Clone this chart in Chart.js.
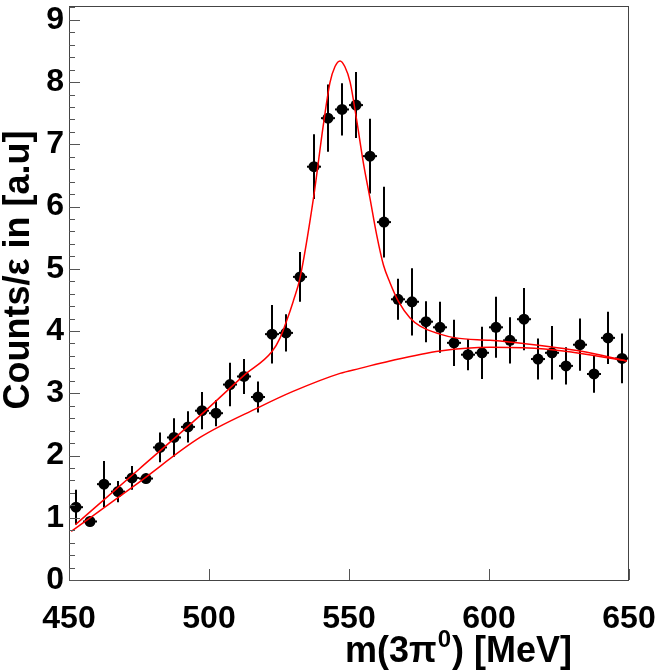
<!DOCTYPE html>
<html><head><meta charset="utf-8">
<script src="https://cdn.jsdelivr.net/npm/chart.js@4/dist/chart.umd.min.js"></script>
<style>html,body{margin:0;padding:0;background:#fff;overflow:hidden}#wrap{width:657px;height:670px;position:relative}</style>
</head><body><div id="wrap"><canvas id="c" width="657" height="670"></canvas></div>
<script>
// ---- data ----
const massBins = [452.5,457.5,462.5,467.5,472.5,477.5,482.5,487.5,492.5,497.5,
                  502.5,507.5,512.5,517.5,522.5,527.5,532.5,537.5,542.5,547.5,
                  552.5,557.5,562.5,567.5,572.5,577.5,582.5,587.5,592.5,597.5,
                  602.5,607.5,612.5,617.5,622.5,627.5,632.5,637.5,642.5,647.5];
const counts = [1.17,0.94,1.54,1.42,1.64,1.63,2.13,2.29,2.46,2.72,
                2.68,3.14,3.27,2.94,3.95,3.97,4.87,6.64,7.42,7.56,
                7.63,6.81,5.75,4.51,4.47,4.15,4.06,3.81,3.62,3.65,
                4.06,3.85,4.19,3.55,3.65,3.44,3.78,3.31,3.89,3.56];
const countErrors = [0.28,0.08,0.37,0.17,0.19,0.08,0.24,0.31,0.25,0.30,
                     0.21,0.35,0.28,0.25,0.47,0.30,0.40,0.52,0.54,0.42,
                     0.53,0.60,0.57,0.33,0.54,0.33,0.41,0.37,0.25,0.42,
                     0.49,0.37,0.50,0.33,0.43,0.30,0.42,0.30,0.42,0.40];
const binHalfWidth = 2.5;
// fit: signal + background
const fitTotalX = [452.3,475,496.8,512.3,522.5,525.4,527.7,530.1,532.5,537.3,540.8,543.2,545.0,546.8,
                   548.5,550.4,552.7,555.1,557.5,559.9,562.3,564.6,567.6,571.8,575.4,582.5,588.0,
                   600.4,612.3,632.5,649.2];
const fitTotalY = [0.89,1.78,2.64,3.28,3.67,3.89,4.16,4.48,4.85,6.13,7.30,7.99,8.25,8.34,
                   8.25,8.00,7.40,6.71,6.13,5.54,5.06,4.78,4.48,4.21,4.08,3.95,3.89,
                   3.85,3.80,3.68,3.52];
// fit: background only
const fitBgX = [450.8,475,496.8,517.6,530,546.8,553.9,564.6,582.5,600.4,612.3,626.5,649.2];
const fitBgY = [0.78,1.57,2.29,2.77,3.03,3.32,3.40,3.52,3.68,3.74,3.73,3.68,3.52];
const xTickLabels = [450,500,550,600,650];
const yTickLabels = [0,1,2,3,4,5,6,7,8,9];
const xTitleParts = ['m(3\u03c0', '0', ') [MeV]'];
const yTitle = 'Counts/\u03b5 in [a.u]';

const FONT = '"Liberation Sans", Arial, Helvetica, sans-serif';

const pointsData = massBins.map((m,i)=>({x:m, y:counts[i]}));
const totalData = fitTotalX.map((m,i)=>({x:m, y:fitTotalY[i]}));
const bgData = fitBgX.map((m,i)=>({x:m, y:fitBgY[i]}));

const decorPlugin = {
  id:'decor',
  beforeDatasetsDraw(chart){
    const {ctx, scales:{x, y}} = chart;
    ctx.save();
    ctx.strokeStyle = '#000';
    ctx.lineWidth = 2;
    massBins.forEach((m,i)=>{
      const px = x.getPixelForValue(m);
      const py = y.getPixelForValue(counts[i]);
      const t = y.getPixelForValue(counts[i]+countErrors[i]);
      const b = y.getPixelForValue(counts[i]-countErrors[i]);
      ctx.beginPath(); ctx.moveTo(px, t); ctx.lineTo(px, b); ctx.stroke();
      const l = x.getPixelForValue(m-binHalfWidth), r = x.getPixelForValue(m+binHalfWidth);
      ctx.beginPath(); ctx.moveTo(l, py); ctx.lineTo(r, py); ctx.stroke();
    });
    ctx.restore();
  },
  afterDraw(chart){
    const {ctx, chartArea:a, scales:{x, y}} = chart;
    ctx.save();
    ctx.strokeStyle = '#444';
    ctx.lineWidth = 1;
    ctx.strokeRect(Math.round(a.left)+0.5, Math.round(a.top)+0.5, Math.round(a.right-a.left)-1, Math.round(a.bottom-a.top)-1);
    ctx.strokeStyle = '#555';
    for (let k=0; k<=46; k++){
      const v = k*0.2;
      if (v > y.max) break;
      const py = Math.round(y.getPixelForValue(v))+0.5;
      const len = (k%5===0) ? 11 : 6;
      ctx.beginPath(); ctx.moveTo(a.left, py); ctx.lineTo(a.left+len, py); ctx.stroke();
    }
    xTickLabels.forEach(v=>{
      const px = Math.round(x.getPixelForValue(v))+0.5;
      ctx.beginPath(); ctx.moveTo(px, a.bottom); ctx.lineTo(px, a.bottom-11); ctx.stroke();
    });
    ctx.fillStyle = '#000';
    ctx.textBaseline = 'alphabetic';
    const big = 'bold 36px ' + FONT, small = 'bold 24px ' + FONT;
    ctx.font = big; const w0 = ctx.measureText(xTitleParts[0]).width;
    ctx.font = small; const w1 = ctx.measureText(xTitleParts[1]).width;
    ctx.font = big; const w2 = ctx.measureText(xTitleParts[2]).width;
    const right = 572, base = 662;
    let sx = right - (w0+w1+w2+2);
    ctx.font = big; ctx.textAlign = 'left';
    ctx.fillText(xTitleParts[0], sx, base); sx += w0+1;
    ctx.font = small; ctx.fillText(xTitleParts[1], sx, base-15); sx += w1+1;
    ctx.font = big; ctx.fillText(xTitleParts[2], sx, base);
    ctx.translate(29, 270);
    ctx.rotate(-Math.PI/2);
    ctx.textAlign = 'center';
    ctx.font = big;
    ctx.fillText(yTitle, 0, 0);
    ctx.restore();
  }
};

function noPad(s){ s.paddingLeft = 0; s.paddingRight = 0; s.paddingTop = 0; s.paddingBottom = 0; }

new Chart(document.getElementById('c'), {
  type:'scatter',
  data:{datasets:[
    {type:'line', label:'fit', data: totalData, borderColor:'#ff0000', borderWidth:1.5, pointRadius:0,
     cubicInterpolationMode:'monotone', fill:false, order:0},
    {type:'line', label:'background', data: bgData, borderColor:'#ff0000', borderWidth:1.5, pointRadius:0,
     cubicInterpolationMode:'monotone', fill:false, order:0},
    {label:'data', data: pointsData, backgroundColor:'#000', borderColor:'#000', pointRadius:5.5,
     pointBorderWidth:0, order:1}
  ]},
  options:{
    responsive:false, animation:false, devicePixelRatio:1,
    layout:{padding:{left:0, top:2, right:28, bottom:0}},
    plugins:{legend:{display:false}, tooltip:{enabled:false}},
    scales:{
      x:{type:'linear', min:450, max:650,
        afterFit(s){ s.height = 90; noPad(s); },
        grid:{display:false, drawTicks:false}, border:{display:false},
        afterBuildTicks(s){ s.ticks = xTickLabels.map(v=>({value:v})); },
        ticks:{font:{family:FONT, weight:'bold', size:32}, color:'#000', padding:20,
               maxRotation:0, autoSkip:false, callback:v=>String(v)}},
      y:{type:'linear', min:0, max:9.23,
        afterFit(s){ s.width = 69; noPad(s); },
        grid:{display:false, drawTicks:false}, border:{display:false},
        afterBuildTicks(s){ s.ticks = yTickLabels.map(v=>({value:v})); },
        ticks:{font:{family:FONT, weight:'bold', size:32}, color:'#000', padding:5,
               autoSkip:false, callback:v=>String(v)}}
    }
  },
  plugins:[decorPlugin]
});
</script></body></html>
